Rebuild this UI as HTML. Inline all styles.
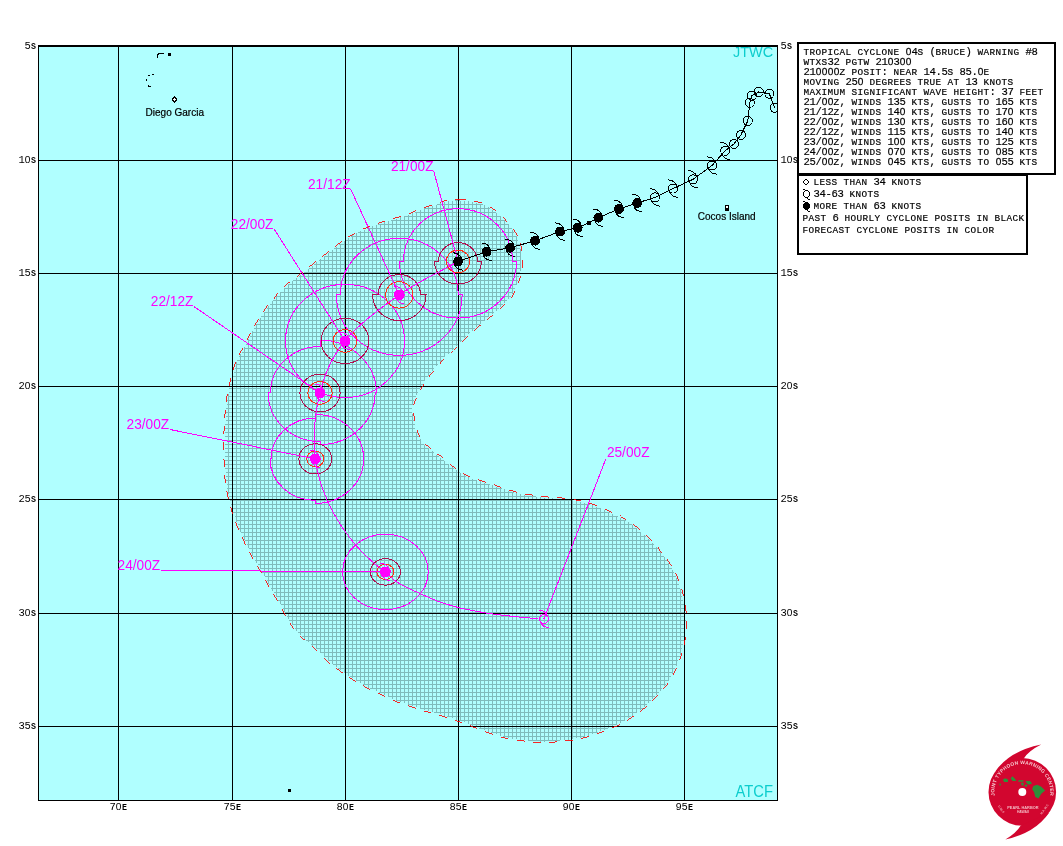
<!DOCTYPE html>
<html><head><meta charset="utf-8"><title>JTWC Tropical Cyclone 04S (Bruce) Warning #8</title>
<style>html,body{margin:0;padding:0;background:#fff;}body{width:1063px;height:846px;overflow:hidden;position:relative;font-family:"Liberation Sans",sans-serif;}svg text{white-space:pre;}</style></head>
<body>
<svg width="1063" height="846" viewBox="0 0 1063 846" style="position:absolute;left:0;top:0;will-change:transform">
<defs>
<pattern id="hatch" x="0" y="0" width="4" height="4" patternUnits="userSpaceOnUse"><rect x="0" y="0" width="4" height="4" fill="#b0ffff"/><rect x="0" y="0" width="4" height="1" fill="#7fbcbc"/><rect x="0" y="0" width="1" height="4" fill="#7fbcbc"/></pattern>
<clipPath id="mapclip"><rect x="39" y="47" width="738" height="753"/></clipPath>
</defs>
<g shape-rendering="crispEdges">
<rect x="38" y="45" width="740" height="756" fill="#000"/>
<rect x="39" y="47" width="738" height="753" fill="#b0ffff"/>
</g>
<g clip-path="url(#mapclip)">
<path d="M458.2,199.4C463.8,199.6 472.9,200.5 478.7,202.1C484.5,203.7 488.5,206.0 493.0,208.9C497.5,211.8 502.2,215.7 505.9,219.5C509.6,223.3 512.6,227.7 515.0,231.6C517.4,235.5 519.1,238.8 520.3,243.0C521.5,247.2 522.0,252.1 522.2,256.6C522.5,261.1 522.5,265.7 521.8,270.2C521.1,274.7 519.6,279.5 518.0,283.8C516.4,288.1 515.2,291.9 512.4,296.0C509.6,300.1 504.9,304.6 501.0,308.3C497.1,312.0 493.5,314.5 489.0,318.2C484.5,321.9 478.6,326.6 474.1,330.5C469.6,334.4 465.2,338.4 461.8,341.7C458.4,345.0 456.8,346.8 453.4,350.2C449.9,353.6 445.0,358.2 441.1,362.4C437.2,366.6 433.3,371.1 429.9,375.6C426.5,380.2 423.2,385.0 420.5,389.7C417.8,394.4 415.2,400.4 413.9,403.8C412.6,407.2 412.8,407.7 412.9,410.4C413.0,413.1 414.0,416.1 414.8,419.8C415.6,423.5 416.1,428.7 417.7,432.6C419.3,436.5 422.5,440.6 424.4,443.0C426.3,445.4 426.4,445.0 428.9,447.1C431.4,449.2 435.4,452.4 439.5,455.7C443.6,459.0 448.9,463.6 453.6,467.0C458.3,470.4 463.0,473.8 467.7,476.1C472.4,478.4 477.1,479.2 481.8,480.8C486.5,482.4 491.3,483.9 496.0,485.5C500.7,487.1 505.4,488.8 510.1,490.2C514.8,491.6 519.5,493.0 524.2,493.9C528.9,494.8 533.8,495.2 538.3,495.8C542.8,496.4 546.6,496.9 551.3,497.3C556.0,497.7 561.6,497.8 566.3,498.4C571.0,499.0 575.0,499.7 579.5,500.7C584.0,501.7 589.1,502.9 593.6,504.5C598.1,506.1 602.2,508.1 606.8,510.1C611.3,512.1 616.5,514.4 620.9,516.7C625.3,519.1 628.9,521.1 633.1,524.2C637.3,527.3 642.4,531.9 646.3,535.5C650.2,539.1 653.2,542.0 656.7,545.9C660.2,549.8 663.9,554.5 667.0,559.0C670.1,563.5 673.1,568.4 675.5,573.1C677.9,577.8 679.6,582.5 681.1,587.2C682.6,591.9 683.6,596.7 684.5,601.4C685.4,606.1 686.1,611.0 686.4,615.5C686.7,620.0 686.6,623.6 686.3,628.2C686.0,632.8 685.3,638.6 684.4,643.3C683.5,648.0 682.4,652.0 681.0,656.4C679.6,660.8 678.0,665.2 675.9,669.6C673.8,674.0 671.4,678.6 668.4,682.8C665.4,687.0 661.6,691.1 658.0,695.0C654.4,698.9 650.7,702.8 646.8,706.3C642.9,709.8 638.9,712.7 634.5,715.7C630.1,718.7 625.1,721.8 620.4,724.2C615.7,726.6 611.0,728.3 606.3,730.2C601.6,732.1 596.9,734.0 592.2,735.5C587.5,737.0 582.8,738.3 578.1,739.2C573.4,740.1 568.7,740.6 564.0,741.1C559.3,741.6 554.6,742.2 549.9,742.4C545.2,742.6 540.4,742.7 535.7,742.4C531.0,742.1 526.2,741.3 521.6,740.7C517.0,740.1 512.7,739.9 508.1,738.9C503.5,737.9 498.7,736.0 494.0,734.5C489.3,733.0 484.4,731.5 479.9,729.8C475.4,728.1 471.4,725.9 466.8,724.2C462.2,722.5 457.3,721.1 452.6,719.5C447.9,717.9 443.2,716.2 438.5,714.8C433.8,713.4 429.1,712.4 424.4,711.0C419.7,709.6 415.0,707.9 410.3,706.3C405.6,704.7 400.9,703.5 396.2,701.6C391.5,699.7 386.8,697.2 382.1,695.0C377.4,692.8 372.6,690.8 368.0,688.4C363.4,686.0 359.4,683.7 354.8,680.9C350.2,678.1 345.1,674.6 340.7,671.5C336.3,668.4 332.8,666.2 328.2,662.2C323.6,658.2 317.3,651.3 312.9,647.3C308.5,643.2 305.1,641.3 301.6,637.9C298.2,634.5 295.0,630.6 292.2,626.7C289.4,622.8 287.2,618.8 284.7,614.4C282.2,610.0 279.8,605.0 277.1,600.3C274.4,595.6 271.4,590.9 268.7,586.2C266.0,581.5 263.8,576.8 261.1,572.1C258.4,567.4 255.3,562.7 252.7,558.0C250.0,553.3 247.5,548.6 245.2,543.9C242.8,539.2 240.5,534.3 238.6,529.8C236.7,525.2 234.9,520.6 233.5,516.6C232.1,512.6 231.4,509.2 230.4,505.5C229.4,501.8 228.3,498.3 227.4,494.2C226.5,490.1 225.7,485.7 225.2,481.0C224.7,476.3 224.4,471.0 224.2,466.0C224.0,461.0 223.9,455.9 223.8,450.9C223.7,445.9 223.7,440.9 223.8,435.9C223.9,430.9 224.3,425.8 224.6,420.8C224.9,415.8 225.1,410.7 225.7,405.7C226.3,400.7 227.0,395.7 228.0,390.7C229.0,385.7 230.4,380.6 231.7,375.6C233.0,370.7 234.1,365.7 236.0,361.0C237.9,356.3 240.9,351.9 243.2,347.4C245.5,342.9 247.5,338.6 249.8,334.2C252.2,329.8 254.6,325.5 257.3,321.1C260.0,316.7 263.0,311.8 265.8,307.9C268.6,304.0 271.2,301.1 274.3,297.5C277.4,293.9 280.7,289.9 284.6,286.3C288.5,282.7 293.4,279.3 297.8,275.9C302.2,272.4 306.5,269.1 310.9,265.6C315.3,262.2 319.7,258.6 324.1,255.2C328.5,251.8 332.9,248.2 337.3,244.9C341.7,241.6 346.1,238.2 350.5,235.5C354.9,232.8 358.9,231.0 363.6,228.9C368.3,226.8 373.7,224.9 378.7,223.2C383.7,221.5 388.7,220.1 393.7,218.5C398.7,216.9 404.2,215.5 408.8,213.8C413.4,212.2 416.5,210.3 421.0,208.6C425.5,206.9 431.6,205.1 435.6,203.8C439.6,202.5 441.2,201.5 445.0,200.8C448.8,200.1 452.6,199.2 458.2,199.4Z" fill="url(#hatch)" stroke="#b0ffff" stroke-width="2" shape-rendering="crispEdges"/>
<g shape-rendering="crispEdges" fill="#000">
<rect x="118" y="47" width="1" height="753"/>
<rect x="232" y="47" width="1" height="753"/>
<rect x="345" y="47" width="1" height="753"/>
<rect x="458" y="47" width="1" height="753"/>
<rect x="571" y="47" width="1" height="753"/>
<rect x="684" y="47" width="1" height="753"/>
<rect x="39" y="160" width="738" height="1"/>
<rect x="39" y="273" width="738" height="1"/>
<rect x="39" y="386" width="738" height="1"/>
<rect x="39" y="499" width="738" height="1"/>
<rect x="39" y="613" width="738" height="1"/>
<rect x="39" y="726" width="738" height="1"/>
</g>
<path d="M458.2,199.4C463.8,199.6 472.9,200.5 478.7,202.1C484.5,203.7 488.5,206.0 493.0,208.9C497.5,211.8 502.2,215.7 505.9,219.5C509.6,223.3 512.6,227.7 515.0,231.6C517.4,235.5 519.1,238.8 520.3,243.0C521.5,247.2 522.0,252.1 522.2,256.6C522.5,261.1 522.5,265.7 521.8,270.2C521.1,274.7 519.6,279.5 518.0,283.8C516.4,288.1 515.2,291.9 512.4,296.0C509.6,300.1 504.9,304.6 501.0,308.3C497.1,312.0 493.5,314.5 489.0,318.2C484.5,321.9 478.6,326.6 474.1,330.5C469.6,334.4 465.2,338.4 461.8,341.7C458.4,345.0 456.8,346.8 453.4,350.2C449.9,353.6 445.0,358.2 441.1,362.4C437.2,366.6 433.3,371.1 429.9,375.6C426.5,380.2 423.2,385.0 420.5,389.7C417.8,394.4 415.2,400.4 413.9,403.8C412.6,407.2 412.8,407.7 412.9,410.4C413.0,413.1 414.0,416.1 414.8,419.8C415.6,423.5 416.1,428.7 417.7,432.6C419.3,436.5 422.5,440.6 424.4,443.0C426.3,445.4 426.4,445.0 428.9,447.1C431.4,449.2 435.4,452.4 439.5,455.7C443.6,459.0 448.9,463.6 453.6,467.0C458.3,470.4 463.0,473.8 467.7,476.1C472.4,478.4 477.1,479.2 481.8,480.8C486.5,482.4 491.3,483.9 496.0,485.5C500.7,487.1 505.4,488.8 510.1,490.2C514.8,491.6 519.5,493.0 524.2,493.9C528.9,494.8 533.8,495.2 538.3,495.8C542.8,496.4 546.6,496.9 551.3,497.3C556.0,497.7 561.6,497.8 566.3,498.4C571.0,499.0 575.0,499.7 579.5,500.7C584.0,501.7 589.1,502.9 593.6,504.5C598.1,506.1 602.2,508.1 606.8,510.1C611.3,512.1 616.5,514.4 620.9,516.7C625.3,519.1 628.9,521.1 633.1,524.2C637.3,527.3 642.4,531.9 646.3,535.5C650.2,539.1 653.2,542.0 656.7,545.9C660.2,549.8 663.9,554.5 667.0,559.0C670.1,563.5 673.1,568.4 675.5,573.1C677.9,577.8 679.6,582.5 681.1,587.2C682.6,591.9 683.6,596.7 684.5,601.4C685.4,606.1 686.1,611.0 686.4,615.5C686.7,620.0 686.6,623.6 686.3,628.2C686.0,632.8 685.3,638.6 684.4,643.3C683.5,648.0 682.4,652.0 681.0,656.4C679.6,660.8 678.0,665.2 675.9,669.6C673.8,674.0 671.4,678.6 668.4,682.8C665.4,687.0 661.6,691.1 658.0,695.0C654.4,698.9 650.7,702.8 646.8,706.3C642.9,709.8 638.9,712.7 634.5,715.7C630.1,718.7 625.1,721.8 620.4,724.2C615.7,726.6 611.0,728.3 606.3,730.2C601.6,732.1 596.9,734.0 592.2,735.5C587.5,737.0 582.8,738.3 578.1,739.2C573.4,740.1 568.7,740.6 564.0,741.1C559.3,741.6 554.6,742.2 549.9,742.4C545.2,742.6 540.4,742.7 535.7,742.4C531.0,742.1 526.2,741.3 521.6,740.7C517.0,740.1 512.7,739.9 508.1,738.9C503.5,737.9 498.7,736.0 494.0,734.5C489.3,733.0 484.4,731.5 479.9,729.8C475.4,728.1 471.4,725.9 466.8,724.2C462.2,722.5 457.3,721.1 452.6,719.5C447.9,717.9 443.2,716.2 438.5,714.8C433.8,713.4 429.1,712.4 424.4,711.0C419.7,709.6 415.0,707.9 410.3,706.3C405.6,704.7 400.9,703.5 396.2,701.6C391.5,699.7 386.8,697.2 382.1,695.0C377.4,692.8 372.6,690.8 368.0,688.4C363.4,686.0 359.4,683.7 354.8,680.9C350.2,678.1 345.1,674.6 340.7,671.5C336.3,668.4 332.8,666.2 328.2,662.2C323.6,658.2 317.3,651.3 312.9,647.3C308.5,643.2 305.1,641.3 301.6,637.9C298.2,634.5 295.0,630.6 292.2,626.7C289.4,622.8 287.2,618.8 284.7,614.4C282.2,610.0 279.8,605.0 277.1,600.3C274.4,595.6 271.4,590.9 268.7,586.2C266.0,581.5 263.8,576.8 261.1,572.1C258.4,567.4 255.3,562.7 252.7,558.0C250.0,553.3 247.5,548.6 245.2,543.9C242.8,539.2 240.5,534.3 238.6,529.8C236.7,525.2 234.9,520.6 233.5,516.6C232.1,512.6 231.4,509.2 230.4,505.5C229.4,501.8 228.3,498.3 227.4,494.2C226.5,490.1 225.7,485.7 225.2,481.0C224.7,476.3 224.4,471.0 224.2,466.0C224.0,461.0 223.9,455.9 223.8,450.9C223.7,445.9 223.7,440.9 223.8,435.9C223.9,430.9 224.3,425.8 224.6,420.8C224.9,415.8 225.1,410.7 225.7,405.7C226.3,400.7 227.0,395.7 228.0,390.7C229.0,385.7 230.4,380.6 231.7,375.6C233.0,370.7 234.1,365.7 236.0,361.0C237.9,356.3 240.9,351.9 243.2,347.4C245.5,342.9 247.5,338.6 249.8,334.2C252.2,329.8 254.6,325.5 257.3,321.1C260.0,316.7 263.0,311.8 265.8,307.9C268.6,304.0 271.2,301.1 274.3,297.5C277.4,293.9 280.7,289.9 284.6,286.3C288.5,282.7 293.4,279.3 297.8,275.9C302.2,272.4 306.5,269.1 310.9,265.6C315.3,262.2 319.7,258.6 324.1,255.2C328.5,251.8 332.9,248.2 337.3,244.9C341.7,241.6 346.1,238.2 350.5,235.5C354.9,232.8 358.9,231.0 363.6,228.9C368.3,226.8 373.7,224.9 378.7,223.2C383.7,221.5 388.7,220.1 393.7,218.5C398.7,216.9 404.2,215.5 408.8,213.8C413.4,212.2 416.5,210.3 421.0,208.6C425.5,206.9 431.6,205.1 435.6,203.8C439.6,202.5 441.2,201.5 445.0,200.8C448.8,200.1 452.6,199.2 458.2,199.4Z" fill="none" stroke="#ff0000" stroke-width="0.85" stroke-dasharray="8 8.3" shape-rendering="crispEdges"/>
<g fill="none" stroke="#000" stroke-width="1" shape-rendering="crispEdges">
<path d="M157.5,57.5V54.5L159.5,53.5H163.5"/>
<rect x="168.5" y="53.5" width="2" height="2" fill="#000"/>
<path d="M148,75.5H150M152,74.5H154M146.5,79V81M148.5,85V86.5H151"/>
<ellipse cx="174.5" cy="99.5" rx="1.6" ry="2.5" fill="#fff" stroke-width="1.1"/>
<rect x="725.5" y="205.5" width="3" height="4.5" fill="#000"/>
<rect x="726" y="206" width="2" height="2" fill="#fff" stroke="none"/>
<rect x="288.5" y="789.5" width="2" height="2" fill="#000"/>
</g>
<text x="145.6" y="115.5" font-family="Liberation Sans, sans-serif" font-size="10px" fill="#000" stroke="#000" stroke-width="0.2">Diego Garcia</text>
<text x="697.8" y="219.8" font-family="Liberation Sans, sans-serif" font-size="10px" fill="#000" stroke="#000" stroke-width="0.2">Cocos Island</text>
<g fill="none" stroke-width="1" shape-rendering="crispEdges">
<path d="M458.0,208.7A54.6,52.8 0 0 1 512.6,261.5L516.5,261.5A58.5,56.6 0 0 1 458.0,318.1L458.0,318.1A58.5,56.6 0 0 1 399.5,261.5L403.4,261.5A54.6,52.8 0 0 1 458.0,208.7Z" stroke="#ff00ff"/>
<path d="M399.3,238.3A58.9,56.6 0 0 1 458.2,294.9L462.1,294.9A62.8,60.4 0 0 1 399.3,355.3L399.3,355.3A62.8,60.4 0 0 1 336.5,294.9L340.4,294.9A58.9,56.6 0 0 1 399.3,238.3Z" stroke="#ff00ff"/>
<path d="M345.0,284.3A59.5,56.6 0 0 1 404.5,340.9L404.5,340.9A59.5,56.6 0 0 1 345.0,397.5L345.0,397.5A59.5,56.6 0 0 1 285.5,340.9L285.5,340.9A59.5,56.6 0 0 1 345.0,284.3Z" stroke="#ff00ff"/>
<path d="M320.0,340.1A56.3,52.8 0 0 1 376.3,392.9L375.1,392.9A55.1,51.7 0 0 1 320.0,444.6L320.0,441.6A51.9,48.7 0 0 1 268.1,392.9L270.5,392.9A49.5,46.4 0 0 1 320.0,346.5Z" stroke="#ff00ff"/>
<path d="M315.3,414.4A48.4,44.5 0 0 1 363.7,458.9L363.7,458.9A48.4,44.5 0 0 1 315.3,503.4L315.3,500.4A45.2,41.5 0 0 1 270.1,458.9L271.0,458.9A44.3,40.8 0 0 1 315.3,418.1Z" stroke="#ff00ff"/>
<path d="M385.4,534.2A42.8,37.7 0 0 1 428.2,571.9L428.2,571.9A42.8,37.7 0 0 1 385.4,609.6L385.4,609.6A42.8,37.7 0 0 1 342.6,571.9L342.6,571.9A42.8,37.7 0 0 1 385.4,534.2Z" stroke="#ff00ff"/>
<path d="M458.0,242.6A19.5,18.9 0 0 1 477.5,261.5L481.4,261.5A23.4,22.6 0 0 1 458.0,284.1L458.0,284.1A23.4,22.6 0 0 1 434.6,261.5L438.5,261.5A19.5,18.9 0 0 1 458.0,242.6Z" stroke="#b01050"/>
<path d="M458.0,250.2A11.7,11.3 0 0 1 469.7,261.5L469.7,261.5A11.7,11.3 0 0 1 458.0,272.8L458.0,272.8A11.7,11.3 0 0 1 446.3,261.5L446.3,261.5A11.7,11.3 0 0 1 458.0,250.2Z" stroke="#ff3018"/>
<path d="M399.3,274.5A21.2,20.4 0 0 1 420.5,294.9L426.0,294.9A26.7,25.7 0 0 1 399.3,320.6L399.3,320.6A26.7,25.7 0 0 1 372.6,294.9L378.1,294.9A21.2,20.4 0 0 1 399.3,274.5Z" stroke="#b01050"/>
<path d="M399.3,281.7A13.7,13.2 0 0 1 413.0,294.9L413.0,294.9A13.7,13.2 0 0 1 399.3,308.1L399.3,308.1A13.7,13.2 0 0 1 385.6,294.9L385.6,294.9A13.7,13.2 0 0 1 399.3,281.7Z" stroke="#ff3018"/>
<path d="M345.0,318.3A23.8,22.6 0 0 1 368.8,340.9L368.8,340.9A23.8,22.6 0 0 1 345.0,363.5L345.0,363.5A23.8,22.6 0 0 1 321.2,340.9L321.2,340.9A23.8,22.6 0 0 1 345.0,318.3Z" stroke="#b01050"/>
<path d="M345.0,329.6A11.9,11.3 0 0 1 356.9,340.9L356.9,340.9A11.9,11.3 0 0 1 345.0,352.2L345.0,352.2A11.9,11.3 0 0 1 333.1,340.9L333.1,340.9A11.9,11.3 0 0 1 345.0,329.6Z" stroke="#ff3018"/>
<path d="M320.0,374.0A20.1,18.9 0 0 1 340.1,392.9L340.1,392.9A20.1,18.9 0 0 1 320.0,411.8L320.0,411.8A20.1,18.9 0 0 1 299.9,392.9L299.9,392.9A20.1,18.9 0 0 1 320.0,374.0Z" stroke="#b01050"/>
<path d="M320.0,381.6A12.1,11.3 0 0 1 332.1,392.9L332.1,392.9A12.1,11.3 0 0 1 320.0,404.2L320.0,404.2A12.1,11.3 0 0 1 307.9,392.9L307.9,392.9A12.1,11.3 0 0 1 320.0,381.6Z" stroke="#ff3018"/>
<path d="M315.3,443.8A16.4,15.1 0 0 1 331.7,458.9L331.7,458.9A16.4,15.1 0 0 1 315.3,474.0L315.3,474.0A16.4,15.1 0 0 1 298.9,458.9L298.9,458.9A16.4,15.1 0 0 1 315.3,443.8Z" stroke="#b01050"/>
<path d="M315.3,451.0A8.6,7.9 0 0 1 323.9,458.9L323.9,458.9A8.6,7.9 0 0 1 315.3,466.8L315.3,466.8A8.6,7.9 0 0 1 306.7,458.9L306.7,458.9A8.6,7.9 0 0 1 315.3,451.0Z" stroke="#ff3018"/>
<path d="M385.4,558.7A15.0,13.2 0 0 1 400.4,571.9L400.4,571.9A15.0,13.2 0 0 1 385.4,585.1L385.4,585.1A15.0,13.2 0 0 1 370.4,571.9L370.4,571.9A15.0,13.2 0 0 1 385.4,558.7Z" stroke="#b01050"/>
<path d="M385.4,564.4A8.6,7.5 0 0 1 394.0,571.9L394.0,571.9A8.6,7.5 0 0 1 385.4,579.4L385.4,579.4A8.6,7.5 0 0 1 376.8,571.9L376.8,571.9A8.6,7.5 0 0 1 385.4,564.4Z" stroke="#ff3018"/>
</g>
<path d="M458.0,261.5L453.1,264.2L448.2,266.9L443.2,269.6L438.3,272.2L433.3,274.8L428.4,277.4L423.4,280.1L418.5,282.8L413.7,285.7L408.8,288.6L404.0,291.7L399.3,294.9L394.5,298.3L389.7,301.8L384.7,305.4L379.8,309.1L374.9,312.9L370.0,316.7L365.3,320.7L360.8,324.7L356.4,328.7L352.3,332.7L348.5,336.8L345.0,340.9L341.8,345.0L338.9,349.1L336.2,353.1L333.7,357.3L331.5,361.4L329.4,365.6L327.5,369.9L325.7,374.3L324.1,378.8L322.7,383.4L321.3,388.1L320.0,392.9L318.8,397.9L317.7,403.2L316.8,408.6L315.9,414.1L315.3,419.7L314.7,425.4L314.4,431.1L314.2,436.9L314.1,442.5L314.3,448.1L314.7,453.6L315.3,458.9L317.1,469.4L319.8,480.0L323.3,490.5L327.5,500.9L332.5,511.1L338.2,521.1L344.6,530.8L351.6,540.1L359.2,548.9L367.4,557.2L376.1,564.9L385.4,571.9C387.3,573.6 392.9,579.2 396.7,581.9C400.5,584.6 404.2,586.1 408.0,588.0C411.8,589.9 414.3,591.0 419.3,593.2C424.3,595.4 431.4,598.9 438.0,601.3C444.6,603.7 452.5,606.0 458.7,607.6C464.9,609.2 469.5,610.0 475.0,611.0C480.5,612.0 485.5,613.0 491.9,613.9C498.3,614.8 505.6,615.6 513.2,616.4C520.8,617.2 533.5,618.3 537.5,618.7" fill="none" stroke-width="1" stroke="#ff00ff" shape-rendering="crispEdges"/>
<line x1="433.8" y1="171.3" x2="458.0" y2="261.5" stroke="#ff00ff" stroke-width="1" shape-rendering="crispEdges"/>
<text x="390.9" y="170.8" font-family="Liberation Sans, sans-serif" font-size="14px" textLength="42.6" lengthAdjust="spacingAndGlyphs" fill="#ff00ff">21/00Z</text>
<line x1="350.8" y1="189.3" x2="399.3" y2="294.9" stroke="#ff00ff" stroke-width="1" shape-rendering="crispEdges"/>
<text x="308.0" y="188.8" font-family="Liberation Sans, sans-serif" font-size="14px" textLength="42.6" lengthAdjust="spacingAndGlyphs" fill="#ff00ff">21/12Z</text>
<line x1="274.2" y1="229.1" x2="345.0" y2="340.9" stroke="#ff00ff" stroke-width="1" shape-rendering="crispEdges"/>
<text x="230.8" y="228.6" font-family="Liberation Sans, sans-serif" font-size="14px" textLength="42.6" lengthAdjust="spacingAndGlyphs" fill="#ff00ff">22/00Z</text>
<line x1="193.9" y1="306.5" x2="320.0" y2="392.9" stroke="#ff00ff" stroke-width="1" shape-rendering="crispEdges"/>
<text x="150.8" y="306.0" font-family="Liberation Sans, sans-serif" font-size="14px" textLength="42.6" lengthAdjust="spacingAndGlyphs" fill="#ff00ff">22/12Z</text>
<line x1="170.0" y1="429.5" x2="315.3" y2="458.9" stroke="#ff00ff" stroke-width="1" shape-rendering="crispEdges"/>
<text x="126.6" y="429.0" font-family="Liberation Sans, sans-serif" font-size="14px" textLength="42.6" lengthAdjust="spacingAndGlyphs" fill="#ff00ff">23/00Z</text>
<line x1="161.4" y1="570.3" x2="385.4" y2="571.9" stroke="#ff00ff" stroke-width="1" shape-rendering="crispEdges"/>
<text x="117.6" y="569.8" font-family="Liberation Sans, sans-serif" font-size="14px" textLength="42.6" lengthAdjust="spacingAndGlyphs" fill="#ff00ff">24/00Z</text>
<line x1="605.6" y1="459.5" x2="543.9" y2="618.9" stroke="#ff00ff" stroke-width="1" shape-rendering="crispEdges"/>
<text x="606.9" y="456.9" font-family="Liberation Sans, sans-serif" font-size="14px" textLength="42.6" lengthAdjust="spacingAndGlyphs" fill="#ff00ff">25/00Z</text>
<g shape-rendering="crispEdges">
<circle cx="399.3" cy="294.9" r="5.4" fill="#ff00ff"/><path d="M394.3,286.2q6.3,0.3 8.3,5.2M404.3,303.6q-6.3,-0.3 -8.3,-5.2" fill="none" stroke="#ff00ff" stroke-width="1"/>
<circle cx="345.0" cy="340.9" r="5.4" fill="#ff00ff"/><path d="M340.0,332.2q6.3,0.3 8.3,5.2M350.0,349.6q-6.3,-0.3 -8.3,-5.2" fill="none" stroke="#ff00ff" stroke-width="1"/>
<circle cx="320.0" cy="392.9" r="5.4" fill="#ff00ff"/><path d="M315.0,384.2q6.3,0.3 8.3,5.2M325.0,401.6q-6.3,-0.3 -8.3,-5.2" fill="none" stroke="#ff00ff" stroke-width="1"/>
<circle cx="315.3" cy="458.9" r="5.4" fill="#ff00ff"/><path d="M310.3,450.2q6.3,0.3 8.3,5.2M320.3,467.6q-6.3,-0.3 -8.3,-5.2" fill="none" stroke="#ff00ff" stroke-width="1"/>
<circle cx="385.4" cy="571.9" r="5.4" fill="#ff00ff"/><path d="M380.4,563.2q6.3,0.3 8.3,5.2M390.4,580.6q-6.3,-0.3 -8.3,-5.2" fill="none" stroke="#ff00ff" stroke-width="1"/>
<circle cx="543.9" cy="618.9" r="4.5" fill="none" stroke="#ff00ff" stroke-width="1"/><path d="M538.9,610.2q6.3,0.3 8.3,5.2M548.9,627.6q-6.3,-0.3 -8.3,-5.2" fill="none" stroke="#ff00ff" stroke-width="1"/>
</g>
<g shape-rendering="crispEdges">
<polyline points="774.7,107.8 769.4,93.8 758.8,91.9 751.8,95.7 749.8,102.8 747.8,120.9 740.9,134.9 734.0,143.9 725.2,150.8 712.0,165.5 693.0,179.3 673.0,188.6 655.0,197.4 637.2,203.0 619.0,208.9 598.3,217.7 589.2,222.5 577.7,227.8 560.0,231.6 535.1,240.7 510.1,247.8 486.6,251.7 458.0,261.5" fill="none" stroke="#000" stroke-width="1"/>
<circle cx="774.7" cy="107.8" r="4.5" fill="none" stroke="#000" stroke-width="1"/>
<circle cx="769.4" cy="93.8" r="4.5" fill="none" stroke="#000" stroke-width="1"/>
<circle cx="758.8" cy="91.9" r="4.5" fill="none" stroke="#000" stroke-width="1"/>
<circle cx="751.8" cy="95.7" r="4.5" fill="none" stroke="#000" stroke-width="1"/>
<circle cx="749.8" cy="102.8" r="4.5" fill="none" stroke="#000" stroke-width="1"/>
<circle cx="747.8" cy="120.9" r="4.5" fill="none" stroke="#000" stroke-width="1"/>
<circle cx="740.9" cy="134.9" r="4.5" fill="none" stroke="#000" stroke-width="1"/>
<circle cx="734.0" cy="143.9" r="4.5" fill="none" stroke="#000" stroke-width="1"/>
<circle cx="725.2" cy="150.8" r="4.5" fill="none" stroke="#000" stroke-width="1"/><path d="M720.2,142.1q6.3,0.3 8.3,5.2M730.2,159.5q-6.3,-0.3 -8.3,-5.2" fill="none" stroke="#000" stroke-width="1"/>
<circle cx="712.0" cy="165.5" r="4.5" fill="none" stroke="#000" stroke-width="1"/><path d="M707.0,156.8q6.3,0.3 8.3,5.2M717.0,174.2q-6.3,-0.3 -8.3,-5.2" fill="none" stroke="#000" stroke-width="1"/>
<circle cx="693.0" cy="179.3" r="4.5" fill="none" stroke="#000" stroke-width="1"/><path d="M688.0,170.6q6.3,0.3 8.3,5.2M698.0,188.0q-6.3,-0.3 -8.3,-5.2" fill="none" stroke="#000" stroke-width="1"/>
<circle cx="673.0" cy="188.6" r="4.5" fill="none" stroke="#000" stroke-width="1"/><path d="M668.0,179.9q6.3,0.3 8.3,5.2M678.0,197.3q-6.3,-0.3 -8.3,-5.2" fill="none" stroke="#000" stroke-width="1"/>
<circle cx="655.0" cy="197.4" r="4.5" fill="none" stroke="#000" stroke-width="1"/><path d="M650.0,188.7q6.3,0.3 8.3,5.2M660.0,206.1q-6.3,-0.3 -8.3,-5.2" fill="none" stroke="#000" stroke-width="1"/>
<circle cx="637.2" cy="203.0" r="4.9" fill="#000"/><path d="M632.2,194.3q6.3,0.3 8.3,5.2M642.2,211.7q-6.3,-0.3 -8.3,-5.2" fill="none" stroke="#000" stroke-width="1"/>
<circle cx="619.0" cy="208.9" r="4.9" fill="#000"/><path d="M614.0,200.2q6.3,0.3 8.3,5.2M624.0,217.6q-6.3,-0.3 -8.3,-5.2" fill="none" stroke="#000" stroke-width="1"/>
<circle cx="598.3" cy="217.7" r="4.9" fill="#000"/><path d="M593.3,209.0q6.3,0.3 8.3,5.2M603.3,226.4q-6.3,-0.3 -8.3,-5.2" fill="none" stroke="#000" stroke-width="1"/>
<rect x="587.2" y="220.5" width="4" height="4" fill="#000"/>
<circle cx="577.7" cy="227.8" r="4.9" fill="#000"/><path d="M572.7,219.1q6.3,0.3 8.3,5.2M582.7,236.5q-6.3,-0.3 -8.3,-5.2" fill="none" stroke="#000" stroke-width="1"/>
<circle cx="560.0" cy="231.6" r="4.9" fill="#000"/><path d="M555.0,222.9q6.3,0.3 8.3,5.2M565.0,240.3q-6.3,-0.3 -8.3,-5.2" fill="none" stroke="#000" stroke-width="1"/>
<circle cx="535.1" cy="240.7" r="4.9" fill="#000"/><path d="M530.1,232.0q6.3,0.3 8.3,5.2M540.1,249.4q-6.3,-0.3 -8.3,-5.2" fill="none" stroke="#000" stroke-width="1"/>
<circle cx="510.1" cy="247.8" r="4.9" fill="#000"/><path d="M505.1,239.1q6.3,0.3 8.3,5.2M515.1,256.5q-6.3,-0.3 -8.3,-5.2" fill="none" stroke="#000" stroke-width="1"/>
<circle cx="486.6" cy="251.7" r="4.9" fill="#000"/><path d="M481.6,243.0q6.3,0.3 8.3,5.2M491.6,260.4q-6.3,-0.3 -8.3,-5.2" fill="none" stroke="#000" stroke-width="1"/>
<circle cx="458.0" cy="261.5" r="4.9" fill="#000"/><path d="M453.0,252.8q6.3,0.3 8.3,5.2M463.0,270.2q-6.3,-0.3 -8.3,-5.2" fill="none" stroke="#000" stroke-width="1"/>
</g>
<text x="733" y="57" textLength="40.2" lengthAdjust="spacingAndGlyphs" font-family="Liberation Sans, sans-serif" font-size="14.7px" fill="#0ccdcd">JTWC</text>
<text x="735.6" y="797" textLength="37.4" lengthAdjust="spacingAndGlyphs" font-family="Liberation Sans, sans-serif" font-size="15.6px" fill="#0ccdcd">ATCF</text>
</g>
<text y="48.5" font-family="Liberation Mono, monospace" fill="#000"><tspan x="24.5" font-size="10.5px">5</tspan><tspan x="31.1" font-size="8.3px" font-weight="bold">S</tspan></text>
<text y="48.5" font-family="Liberation Mono, monospace" fill="#000"><tspan x="780.5" font-size="10.5px">5</tspan><tspan x="787.1" font-size="8.3px" font-weight="bold">S</tspan></text>
<text y="162.5" font-family="Liberation Mono, monospace" fill="#000"><tspan x="18.5" font-size="10.5px">1</tspan><tspan x="24.7" font-size="10.1px" text-rendering="geometricPrecision" font-family="Liberation Sans, sans-serif">0</tspan><tspan x="31.1" font-size="8.3px" font-weight="bold">S</tspan></text>
<text y="162.5" font-family="Liberation Mono, monospace" fill="#000"><tspan x="780.5" font-size="10.5px">1</tspan><tspan x="786.7" font-size="10.1px" text-rendering="geometricPrecision" font-family="Liberation Sans, sans-serif">0</tspan><tspan x="793.1" font-size="8.3px" font-weight="bold">S</tspan></text>
<text y="275.5" font-family="Liberation Mono, monospace" fill="#000"><tspan x="18.5" font-size="10.5px">1</tspan><tspan x="24.5" font-size="10.5px">5</tspan><tspan x="31.1" font-size="8.3px" font-weight="bold">S</tspan></text>
<text y="275.5" font-family="Liberation Mono, monospace" fill="#000"><tspan x="780.5" font-size="10.5px">1</tspan><tspan x="786.5" font-size="10.5px">5</tspan><tspan x="793.1" font-size="8.3px" font-weight="bold">S</tspan></text>
<text y="388.5" font-family="Liberation Mono, monospace" fill="#000"><tspan x="18.5" font-size="10.5px">2</tspan><tspan x="24.7" font-size="10.1px" text-rendering="geometricPrecision" font-family="Liberation Sans, sans-serif">0</tspan><tspan x="31.1" font-size="8.3px" font-weight="bold">S</tspan></text>
<text y="388.5" font-family="Liberation Mono, monospace" fill="#000"><tspan x="780.5" font-size="10.5px">2</tspan><tspan x="786.7" font-size="10.1px" text-rendering="geometricPrecision" font-family="Liberation Sans, sans-serif">0</tspan><tspan x="793.1" font-size="8.3px" font-weight="bold">S</tspan></text>
<text y="501.5" font-family="Liberation Mono, monospace" fill="#000"><tspan x="18.5" font-size="10.5px">2</tspan><tspan x="24.5" font-size="10.5px">5</tspan><tspan x="31.1" font-size="8.3px" font-weight="bold">S</tspan></text>
<text y="501.5" font-family="Liberation Mono, monospace" fill="#000"><tspan x="780.5" font-size="10.5px">2</tspan><tspan x="786.5" font-size="10.5px">5</tspan><tspan x="793.1" font-size="8.3px" font-weight="bold">S</tspan></text>
<text y="615.5" font-family="Liberation Mono, monospace" fill="#000"><tspan x="18.5" font-size="10.5px">3</tspan><tspan x="24.7" font-size="10.1px" text-rendering="geometricPrecision" font-family="Liberation Sans, sans-serif">0</tspan><tspan x="31.1" font-size="8.3px" font-weight="bold">S</tspan></text>
<text y="615.5" font-family="Liberation Mono, monospace" fill="#000"><tspan x="780.5" font-size="10.5px">3</tspan><tspan x="786.7" font-size="10.1px" text-rendering="geometricPrecision" font-family="Liberation Sans, sans-serif">0</tspan><tspan x="793.1" font-size="8.3px" font-weight="bold">S</tspan></text>
<text y="728.5" font-family="Liberation Mono, monospace" fill="#000"><tspan x="18.5" font-size="10.5px">3</tspan><tspan x="24.5" font-size="10.5px">5</tspan><tspan x="31.1" font-size="8.3px" font-weight="bold">S</tspan></text>
<text y="728.5" font-family="Liberation Mono, monospace" fill="#000"><tspan x="780.5" font-size="10.5px">3</tspan><tspan x="786.5" font-size="10.5px">5</tspan><tspan x="793.1" font-size="8.3px" font-weight="bold">S</tspan></text>
<text y="810.0" font-family="Liberation Mono, monospace" fill="#000"><tspan x="109.5" font-size="10.5px">7</tspan><tspan x="115.7" font-size="10.1px" text-rendering="geometricPrecision" font-family="Liberation Sans, sans-serif">0</tspan><tspan x="122.1" font-size="8.3px" font-weight="bold">E</tspan></text>
<text y="810.0" font-family="Liberation Mono, monospace" fill="#000"><tspan x="223.5" font-size="10.5px">7</tspan><tspan x="229.5" font-size="10.5px">5</tspan><tspan x="236.1" font-size="8.3px" font-weight="bold">E</tspan></text>
<text y="810.0" font-family="Liberation Mono, monospace" fill="#000"><tspan x="336.5" font-size="10.5px">8</tspan><tspan x="342.7" font-size="10.1px" text-rendering="geometricPrecision" font-family="Liberation Sans, sans-serif">0</tspan><tspan x="349.1" font-size="8.3px" font-weight="bold">E</tspan></text>
<text y="810.0" font-family="Liberation Mono, monospace" fill="#000"><tspan x="449.5" font-size="10.5px">8</tspan><tspan x="455.5" font-size="10.5px">5</tspan><tspan x="462.1" font-size="8.3px" font-weight="bold">E</tspan></text>
<text y="810.0" font-family="Liberation Mono, monospace" fill="#000"><tspan x="562.5" font-size="10.5px">9</tspan><tspan x="568.7" font-size="10.1px" text-rendering="geometricPrecision" font-family="Liberation Sans, sans-serif">0</tspan><tspan x="575.1" font-size="8.3px" font-weight="bold">E</tspan></text>
<text y="810.0" font-family="Liberation Mono, monospace" fill="#000"><tspan x="675.5" font-size="10.5px">9</tspan><tspan x="681.5" font-size="10.5px">5</tspan><tspan x="688.1" font-size="8.3px" font-weight="bold">E</tspan></text>
<g shape-rendering="crispEdges" fill="none" stroke="#000" stroke-width="2">
<rect x="798" y="43" width="257" height="131" fill="#fff"/>
<path d="M798,174V254H1027V174"/>
<rect x="797" y="175" width="231" height="1" fill="#000" stroke="none"/>
</g>
<g font-family="Liberation Mono, monospace" fill="#000" stroke="#000" stroke-width="0.18">
<text y="55.0" x="803.6 809.6 815.6 821.6 827.6 833.6 839.6 845.6 857.6 863.6 869.6 875.6 881.6 887.6 893.6 917.6 935.6 941.6 947.6 953.6 959.6 977.6 983.6 989.6 995.6 1001.6 1007.6 1013.6" font-size="9.4px">TROPICALCYCLONESBRUCEWARNING</text><text y="55.0" x="911.4 929.4 965.4 1025.4 1031.4" font-size="10.6px">4()#8</text><text y="55.0" x="905.7" font-size="10.1px" text-rendering="geometricPrecision" font-family="Liberation Sans, sans-serif">0</text>
<text y="65.0" x="803.6 809.6 815.6 821.6 845.6 851.6 857.6 863.6" font-size="9.4px">WTXSPGTW</text><text y="65.0" x="827.4 833.4 875.4 881.4 893.4" font-size="10.6px">32213</text><text y="65.0" x="887.7 899.7 905.7" font-size="10.1px" text-rendering="geometricPrecision" font-family="Liberation Sans, sans-serif">000</text>
<text y="75.0" x="839.6 851.6 857.6 863.6 869.6 875.6 893.6 899.6 905.6 911.6 947.6 983.6" font-size="9.4px">ZPOSITNEARSE</text><text y="75.0" x="803.4 809.4 881.4 923.4 929.4 935.4 941.4 959.4 965.4 971.4" font-size="10.6px">21:14.585.</text><text y="75.0" x="815.7 821.7 827.7 833.7 977.7" font-size="10.1px" text-rendering="geometricPrecision" font-family="Liberation Sans, sans-serif">00000</text>
<text y="85.0" x="803.6 809.6 815.6 821.6 827.6 833.6 869.6 875.6 881.6 887.6 893.6 899.6 905.6 917.6 923.6 929.6 935.6 947.6 953.6 983.6 989.6 995.6 1001.6 1007.6" font-size="9.4px">MOVINGDEGREESTRUEATKNOTS</text><text y="85.0" x="845.4 851.4 965.4 971.4" font-size="10.6px">2513</text><text y="85.0" x="857.7" font-size="10.1px" text-rendering="geometricPrecision" font-family="Liberation Sans, sans-serif">0</text>
<text y="95.0" x="803.6 809.6 815.6 821.6 827.6 833.6 839.6 851.6 857.6 863.6 869.6 875.6 881.6 887.6 893.6 899.6 905.6 911.6 923.6 929.6 935.6 941.6 953.6 959.6 965.6 971.6 977.6 983.6 1019.6 1025.6 1031.6 1037.6" font-size="9.4px">MAXIMUMSIGNIFICANTWAVEHEIGHTFEET</text><text y="95.0" x="989.4 1001.4 1007.4" font-size="10.6px">:37</text>
<text y="105.0" x="833.6 851.6 857.6 863.6 869.6 875.6 911.6 917.6 923.6 941.6 947.6 953.6 959.6 965.6 977.6 983.6 1019.6 1025.6 1031.6" font-size="9.4px">ZWINDSKTSGUSTSTOKTS</text><text y="105.0" x="803.4 809.4 815.4 839.4 887.4 893.4 899.4 929.4 995.4 1001.4 1007.4" font-size="10.6px">21/,135,165</text><text y="105.0" x="821.7 827.7" font-size="10.1px" text-rendering="geometricPrecision" font-family="Liberation Sans, sans-serif">00</text>
<text y="115.0" x="833.6 851.6 857.6 863.6 869.6 875.6 911.6 917.6 923.6 941.6 947.6 953.6 959.6 965.6 977.6 983.6 1019.6 1025.6 1031.6" font-size="9.4px">ZWINDSKTSGUSTSTOKTS</text><text y="115.0" x="803.4 809.4 815.4 821.4 827.4 839.4 887.4 893.4 929.4 995.4 1001.4" font-size="10.6px">21/12,14,17</text><text y="115.0" x="899.7 1007.7" font-size="10.1px" text-rendering="geometricPrecision" font-family="Liberation Sans, sans-serif">00</text>
<text y="125.0" x="833.6 851.6 857.6 863.6 869.6 875.6 911.6 917.6 923.6 941.6 947.6 953.6 959.6 965.6 977.6 983.6 1019.6 1025.6 1031.6" font-size="9.4px">ZWINDSKTSGUSTSTOKTS</text><text y="125.0" x="803.4 809.4 815.4 839.4 887.4 893.4 929.4 995.4 1001.4" font-size="10.6px">22/,13,16</text><text y="125.0" x="821.7 827.7 899.7 1007.7" font-size="10.1px" text-rendering="geometricPrecision" font-family="Liberation Sans, sans-serif">0000</text>
<text y="135.0" x="833.6 851.6 857.6 863.6 869.6 875.6 911.6 917.6 923.6 941.6 947.6 953.6 959.6 965.6 977.6 983.6 1019.6 1025.6 1031.6" font-size="9.4px">ZWINDSKTSGUSTSTOKTS</text><text y="135.0" x="803.4 809.4 815.4 821.4 827.4 839.4 887.4 893.4 899.4 929.4 995.4 1001.4" font-size="10.6px">22/12,115,14</text><text y="135.0" x="1007.7" font-size="10.1px" text-rendering="geometricPrecision" font-family="Liberation Sans, sans-serif">0</text>
<text y="145.0" x="833.6 851.6 857.6 863.6 869.6 875.6 911.6 917.6 923.6 941.6 947.6 953.6 959.6 965.6 977.6 983.6 1019.6 1025.6 1031.6" font-size="9.4px">ZWINDSKTSGUSTSTOKTS</text><text y="145.0" x="803.4 809.4 815.4 839.4 887.4 929.4 995.4 1001.4 1007.4" font-size="10.6px">23/,1,125</text><text y="145.0" x="821.7 827.7 893.7 899.7" font-size="10.1px" text-rendering="geometricPrecision" font-family="Liberation Sans, sans-serif">0000</text>
<text y="155.0" x="833.6 851.6 857.6 863.6 869.6 875.6 911.6 917.6 923.6 941.6 947.6 953.6 959.6 965.6 977.6 983.6 1019.6 1025.6 1031.6" font-size="9.4px">ZWINDSKTSGUSTSTOKTS</text><text y="155.0" x="803.4 809.4 815.4 839.4 893.4 929.4 1001.4 1007.4" font-size="10.6px">24/,7,85</text><text y="155.0" x="821.7 827.7 887.7 899.7 995.7" font-size="10.1px" text-rendering="geometricPrecision" font-family="Liberation Sans, sans-serif">00000</text>
<text y="165.0" x="833.6 851.6 857.6 863.6 869.6 875.6 911.6 917.6 923.6 941.6 947.6 953.6 959.6 965.6 977.6 983.6 1019.6 1025.6 1031.6" font-size="9.4px">ZWINDSKTSGUSTSTOKTS</text><text y="165.0" x="803.4 809.4 815.4 839.4 893.4 899.4 929.4 1001.4 1007.4" font-size="10.6px">25/,45,55</text><text y="165.0" x="821.7 827.7 887.7 995.7" font-size="10.1px" text-rendering="geometricPrecision" font-family="Liberation Sans, sans-serif">0000</text>
<text y="185.0" x="813.6 819.6 825.6 831.6 843.6 849.6 855.6 861.6 891.6 897.6 903.6 909.6 915.6" font-size="9.4px">LESSTHANKNOTS</text><text y="185.0" x="873.4 879.4" font-size="10.6px">34</text>
<text y="197.0" x="849.6 855.6 861.6 867.6 873.6" font-size="9.4px">KNOTS</text><text y="197.0" x="813.4 819.4 825.4 831.4 837.4" font-size="10.6px">34-63</text>
<text y="209.0" x="813.6 819.6 825.6 831.6 843.6 849.6 855.6 861.6 891.6 897.6 903.6 909.6 915.6" font-size="9.4px">MORETHANKNOTS</text><text y="209.0" x="873.4 879.4" font-size="10.6px">63</text>
<text y="221.0" x="802.6 808.6 814.6 820.6 844.6 850.6 856.6 862.6 868.6 874.6 886.6 892.6 898.6 904.6 910.6 916.6 922.6 934.6 940.6 946.6 952.6 958.6 964.6 976.6 982.6 994.6 1000.6 1006.6 1012.6 1018.6" font-size="9.4px">PASTHOURLYCYCLONEPOSITSINBLACK</text><text y="221.0" x="832.4" font-size="10.6px">6</text>
<text y="233.0" x="802.6 808.6 814.6 820.6 826.6 832.6 838.6 844.6 856.6 862.6 868.6 874.6 880.6 886.6 892.6 904.6 910.6 916.6 922.6 928.6 934.6 946.6 952.6 964.6 970.6 976.6 982.6 988.6" font-size="9.4px">FORECASTCYCLONEPOSITSINCOLOR</text>
</g>
<g shape-rendering="crispEdges" stroke="#000" stroke-width="1" fill="none">
<path d="M805.5,179.5h1l2,2v1l-2,2h-1l-2,-2v-1z"/>
<circle cx="806.5" cy="194" r="3.2"/>
<path d="M803,189.5h1.5l2,1.5M806.5,197.5l1.5,1.5h2"/>
<circle cx="806.5" cy="206" r="3.2" fill="#000"/>
<path d="M803,201.5h1.5l2,1.5M806.5,209.5l1.5,1.5h2"/>
</g>
<g transform="translate(1022.3,791.9)">
<circle cx="0" cy="0" r="33.8" fill="#d2062f"/>
<path d="M-27,-20.5Q-13,-41 18.9,-47.5Q6,-41 1.5,-33.5Z" fill="#d2062f"/>
<path d="M27,20.5Q13,41 -16.9,47.5Q-6,41 -1.5,33.5Z" fill="#d2062f"/>
<circle cx="0" cy="0" r="4" fill="#fff"/>
<g fill="#2f8f3a">
<path d="M11,-6L15,-7.2L19,-5.2L22.8,-1.3L19,1.9L16.2,6.5L13,5.2L11.7,0L9.8,-2.6Z"/>
<path d="M3.3,-11L7.8,-11L9.8,-8.5L6.5,-7.2L4.6,-8.5Z"/>
<path d="M-3.9,-11.7L1.3,-11.7L1,-10.1L-3.9,-10.1Z"/>
<path d="M-1.3,-9.1L1.3,-9.1L1.3,-6.5L-0.7,-6.5Z"/>
<path d="M2.6,-7.2L5.2,-7.2L4.6,-5.2L2.6,-5.5Z"/>
<path d="M-11.7,-13.7L-9.8,-15.6L-7.2,-13L-5.9,-11L-9.8,-11Z"/>
<path d="M-19.5,-12.4L-16.9,-13.7L-14.3,-12.4L-14.3,-9.8L-18.2,-9.8Z"/>
<path d="M-22.8,-8.5L-21.5,-8.5L-21.5,-6.5L-22.8,-6.5Z"/>
</g>
<path id="lgarc" d="M-27.2,6.3A27.9,27.9 0 1 1 27.2,6.3" fill="none"/>
<text font-family="Liberation Sans, sans-serif" font-weight="bold" font-size="4.9px" fill="#f6c9d0" letter-spacing="0.3"><textPath href="#lgarc" startOffset="50%" text-anchor="middle">JOINT TYPHOON WARNING CENTER</textPath></text>
<text x="0.6" y="17" text-anchor="middle" font-family="Liberation Sans, sans-serif" font-weight="bold" font-size="3.9px" fill="#f3b9c2">PEARL HARBOR</text>
<text x="0.6" y="21.6" text-anchor="middle" font-family="Liberation Sans, sans-serif" font-weight="bold" font-size="3.4px" fill="#f3b9c2">HAWAII</text>
<text transform="translate(-22,18) rotate(55)" text-anchor="middle" font-family="Liberation Sans, sans-serif" font-weight="bold" font-size="3.1px" fill="#ee9fac">D.W.S</text>
<text transform="translate(23,18) rotate(-55)" text-anchor="middle" font-family="Liberation Sans, sans-serif" font-weight="bold" font-size="3.1px" fill="#ee9fac">N.A.W.C</text>
</g>
</svg>
</body></html>
